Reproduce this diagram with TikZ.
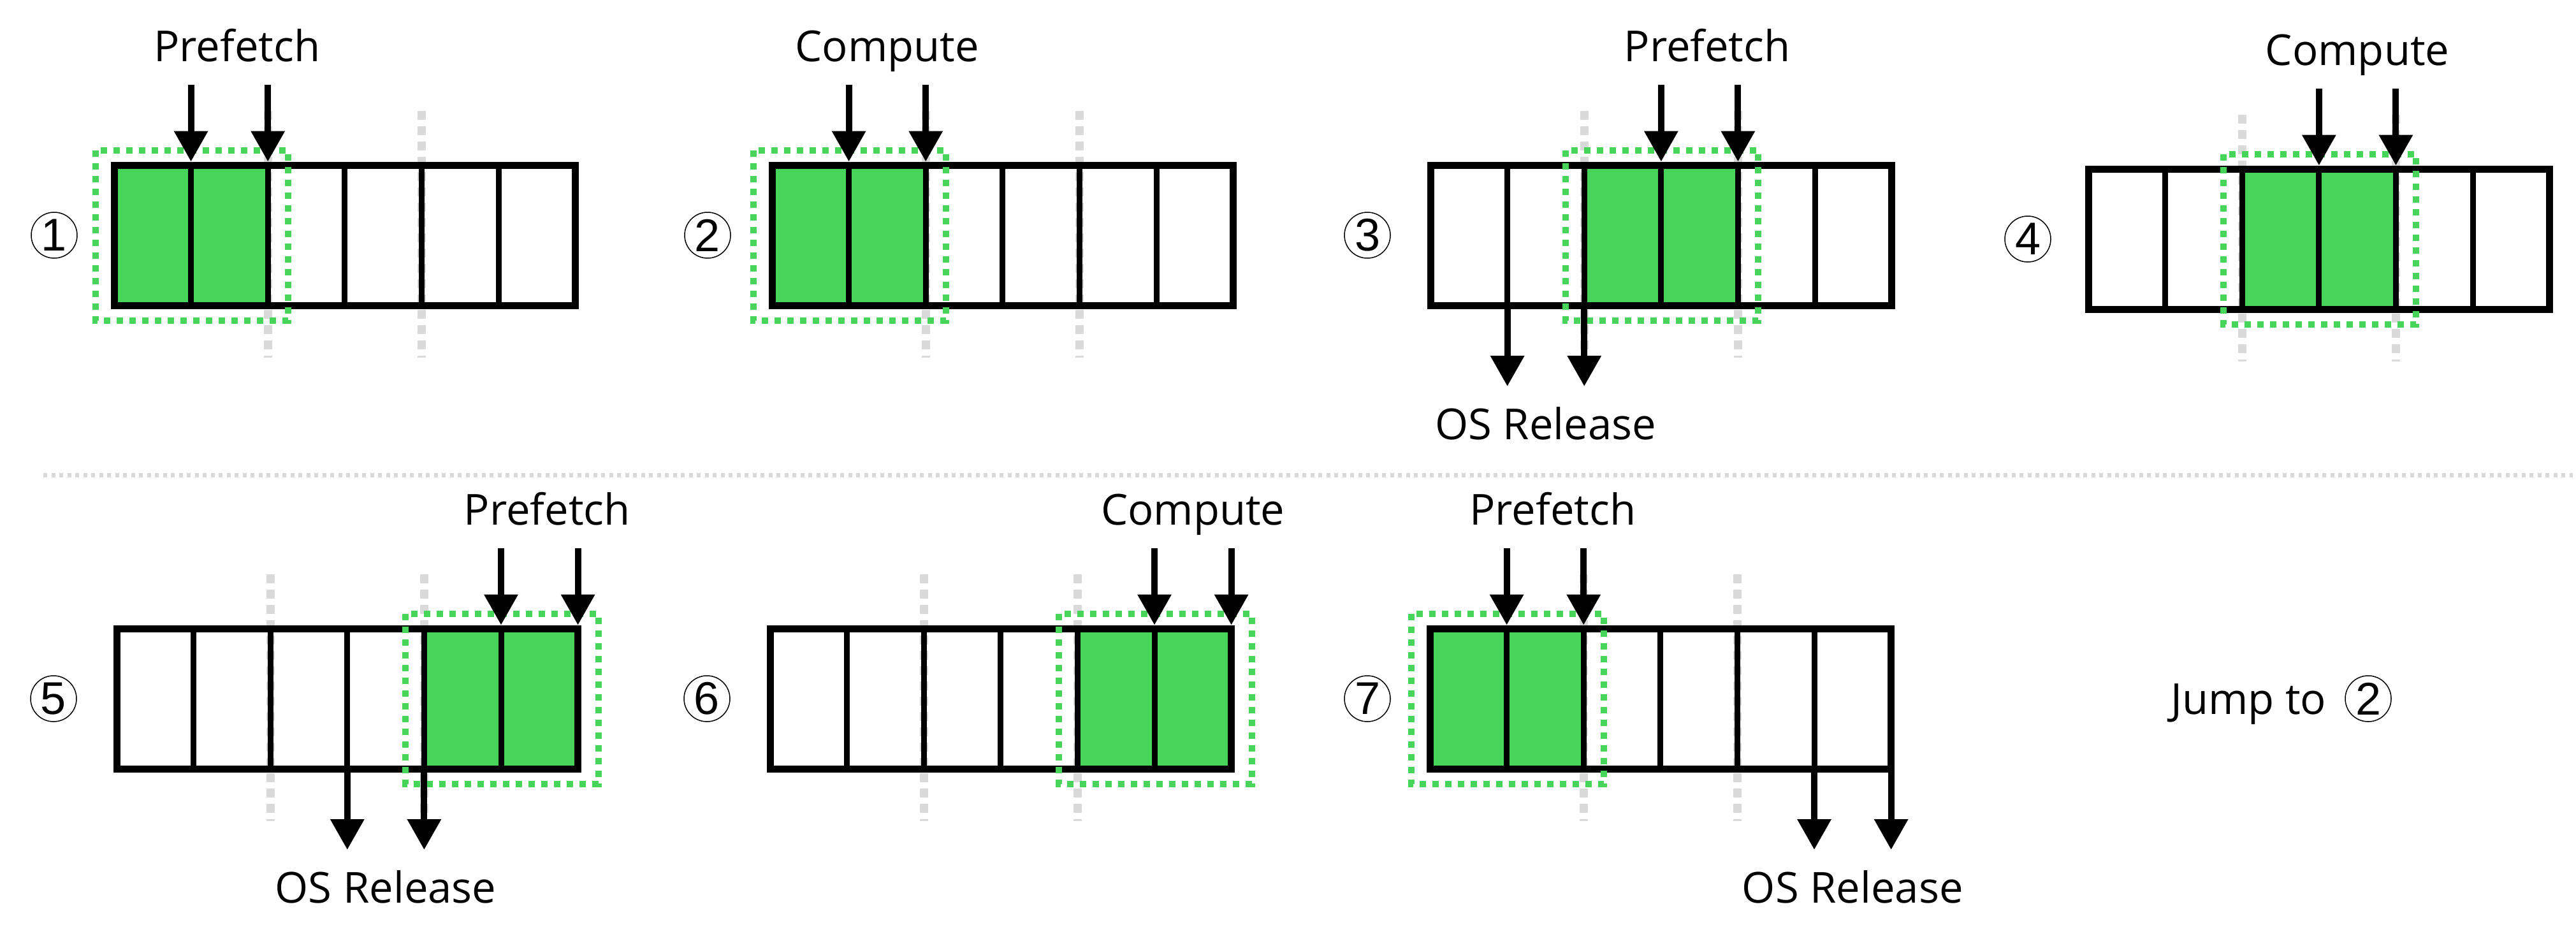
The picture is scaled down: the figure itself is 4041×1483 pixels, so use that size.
\documentclass[tikz,border=0pt]{standalone}
\usepackage{fontspec}
\setmainfont{Open Sans}
\newfontfamily\numfont{Liberation Sans}
\usetikzlibrary{arrows.meta}
\definecolor{gfill}{RGB}{72,211,90}
\definecolor{lgrey}{RGB}{217,217,217}
\newcommand{\drawpanel}[8]{%
  \pgfmathsetmacro\pL{#2}%
  \pgfmathsetmacro\pT{#3}%
  \pgfmathsetmacro\pB{#3+220}%
  \pgfmathsetmacro\gA{#2+#4*120.6}%
  \pgfmathsetmacro\gB{#2+(#4+1)*120.6}%
  \pgfmathsetmacro\gC{#2+(#4+2)*120.6}%
  \pgfmathsetmacro\xA{#2+2*120.6}%
  \pgfmathsetmacro\xB{#2+4*120.6}%
  \draw[greyline] (\xA,{#3-85}) -- (\xA,{#3+302});
  \draw[greyline] (\xB,{#3-85}) -- (\xB,{#3+302});
  \fill[greencell] (\gA,\pT) rectangle (\gC,\pB);
  \node[boxnode] (p#1box) at (\pL,\pT) {};
  \foreach \k in {1,...,5}{\draw[divider] ({#2+\k*120.6},\pT) -- ({#2+\k*120.6},\pB);}
  \draw[gdot] ({\gA-29},{#3-23}) rectangle ({\gC+32},{\pB+24});
  \coordinate (p#1ta) at (\gB,{#3-126});
  \coordinate (p#1tb) at (\gB,{#3-5.5});
  \coordinate (p#1tc) at (\gC,{#3-126});
  \coordinate (p#1td) at (\gC,{#3-5.5});
  \draw[arr] (p#1ta) -- (p#1tb);
  \draw[arr] (p#1tc) -- (p#1td);
  \node[lbl] (p#1lab) at ({(\gB+\gC)/2+#6},{#3-163}) {#5};
  \ifnum#7>0
    \pgfmathsetmacro\dA{#2+#7*120.6}%
    \pgfmathsetmacro\dB{#2+(#7+1)*120.6}%
    \coordinate (p#1da) at (\dA,\pB);
    \coordinate (p#1db) at (\dA,{\pB+127});
    \coordinate (p#1dc) at (\dB,\pB);
    \coordinate (p#1dd) at (\dB,{\pB+127});
    \draw[arr] (p#1da) -- (p#1db);
    \draw[arr] (p#1dc) -- (p#1dd);
    \node[lbl] (p#1rel) at ({(\dA+\dB)/2},{\pB+210}) {OS Release};
  \fi
  \node[cnum] (p#1num) at (#8,{#3+110}) {#1};
}
\begin{document}
\begin{tikzpicture}[x=1pt,y=-1pt,
  greyline/.style={draw=lgrey, line width=13pt, dash pattern=on 14pt off 10pt},
  sepline/.style={draw=lgrey, line width=7pt, dash pattern=on 6pt off 6.5pt},
  greencell/.style={fill=gfill},
  boxnode/.style={draw=black, line width=11pt, rectangle, inner sep=0pt, outer sep=0pt,
    minimum width=723.6pt, minimum height=220pt, anchor=north west},
  divider/.style={draw=black, line width=9pt},
  gdot/.style={draw=gfill, line width=10pt, dash pattern=on 10pt off 10pt},
  arr/.style={draw=black, line width=10pt, -{Triangle[length=48pt,width=51pt]}},
  lbl/.style={font=\fontsize{67}{80}\selectfont, inner sep=0pt, anchor=base},
  cnum/.style={circle, draw=black, line width=1.5pt, minimum size=72pt, inner sep=0pt,
    font=\numfont\fontsize{72}{80}\selectfont}]
\useasboundingbox (0,0) rectangle (4041,1483);
\fill[white] (0,0) rectangle (4041,1483);

\drawpanel{1}{179}{259}{0}{Prefetch}{12}{0}{85}
\drawpanel{2}{1211}{259}{0}{Compute}{0}{0}{1110}
\drawpanel{3}{2244}{259}{2}{Prefetch}{12}{1}{2145}
\drawpanel{4}{3276}{265}{2}{Compute}{0}{0}{3181}

\coordinate (sepL) at (68,745);
\coordinate (sepR) at (4036,745);
\draw[sepline] (sepL) -- (sepR);

\drawpanel{5}{183}{986}{4}{Prefetch}{12}{3}{84}
\drawpanel{6}{1208}{986}{4}{Compute}{0}{0}{1109}
\drawpanel{7}{2243}{986}{0}{Prefetch}{12}{5}{2145}

\node[lbl, anchor=base west] (jump) at (3405,1120) {Jump to};
\node[cnum] (jumpnum) at (3715,1096) {2};
\end{tikzpicture}
\end{document}
